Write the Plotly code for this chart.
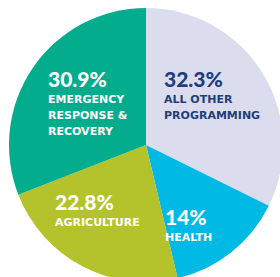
import plotly.graph_objects as go

labels = ["ALL OTHER PROGRAMMING", "HEALTH", "AGRICULTURE", "EMERGENCY RESPONSE & RECOVERY"]
values = [32.3, 14, 22.8, 30.9]
pct_text = ["32.3%", "14%", "22.8%", "30.9%"]
label_lines = [["ALL OTHER", "PROGRAMMING"], ["HEALTH"], ["AGRICULTURE"], ["EMERGENCY", "RESPONSE &", "RECOVERY"]]

colors = ["#dbddee", "#00b9e5", "#b4c22c", "#03ac8c"]
text_colors = ["#1d3f7c", "#ffffff", "#ffffff", "#ffffff"]

W, H = 284, 284
# pixel anchors (left x, top y of text block) for each label block
anchors = [(162, 64), (163, 202), (53, 187), (46, 64)]

fig = go.Figure(go.Pie(
    labels=labels, values=values, sort=False, direction="clockwise", rotation=0,
    marker=dict(colors=colors, line=dict(width=0)),
    textinfo="none", hoverinfo="skip", showlegend=False,
    domain=dict(x=[9 / W, 283 / W], y=[2 / H, 276 / H]),
))

anns = []
for i in range(len(labels)):
    ax, ay = anchors[i]
    txt = "<span style='font-size:21px;font-family:Lato;font-weight:900'>" + pct_text[i] + "</span>"
    for ln in label_lines[i]:
        txt += "<br><span style='font-size:11px;font-weight:bold'>" + ln + "</span>"
    anns.append(dict(x=ax / W, y=1 - ay / H, xref="paper", yref="paper", xanchor="left", yanchor="top",
                     align="left", text=txt, showarrow=False,
                     font=dict(family="DejaVu Sans", size=12.3, color=text_colors[i])))

fig.update_layout(width=W, height=H, margin=dict(l=0, r=0, t=0, b=0),
                  paper_bgcolor="white", plot_bgcolor="white", annotations=anns)

fig.write_html("out.html", config={"displayModeBar": False},
               post_script="document.body.style.margin='0';document.body.style.overflow='hidden';document.documentElement.style.overflow='hidden';")
